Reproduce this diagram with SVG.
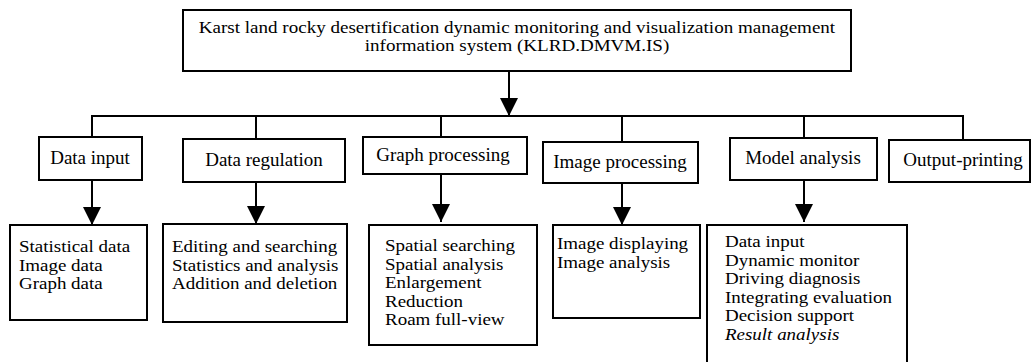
<svg xmlns="http://www.w3.org/2000/svg" width="1032" height="362" viewBox="0 0 1032 362">
<style>
.box{fill:#fff;stroke:#000;stroke-width:2}
.ln{fill:none;stroke:#000;stroke-width:2}
text{font-family:"Liberation Serif","Times New Roman",serif;font-size:19px;fill:#000}
.c{text-anchor:middle}
.t{font-size:16px}
.l{font-size:16.5px}
</style>
<defs>
<marker id="ah" viewBox="0 0 18 18" refX="18" refY="9" markerWidth="18" markerHeight="18" orient="auto" markerUnits="userSpaceOnUse"><path d="M0,0 L18,9 L0,18 z" fill="#000"/></marker>
</defs>
<rect width="1032" height="362" fill="#fff"/>
<g id="connectors">
<path class="ln" d="M509,71 V116" marker-end="url(#ah)"/>
<path class="ln" d="M92,137 V116 H963 V140"/>
<path class="ln" d="M256,116 V139"/>
<path class="ln" d="M441,116 V137"/>
<path class="ln" d="M622,116 V142"/>
<path class="ln" d="M804,116 V138"/>
<path class="ln" d="M92,180 V225" marker-end="url(#ah)"/>
<path class="ln" d="M256,182 V224" marker-end="url(#ah)"/>
<path class="ln" d="M441,174 V222" marker-end="url(#ah)"/>
<path class="ln" d="M622,183 V225" marker-end="url(#ah)"/>
<path class="ln" d="M804,180 V222" marker-end="url(#ah)"/>
</g>
<g id="root">
<rect class="box" x="183" y="10" width="668" height="61"/>
<text class="t c" transform="translate(517 33) scale(1.19 1)">Karst land rocky desertification dynamic monitoring and visualization management</text>
<text class="t c" transform="translate(517 51) scale(1.19 1)">information system (KLRD.DMVM.IS)</text>
</g>
<g id="data-input">
<rect class="box" x="39" y="137" width="103" height="43"/>
<text class="c" x="90" y="164">Data input</text>
</g>
<g id="data-regulation">
<rect class="box" x="183" y="139" width="162" height="43"/>
<text class="c" x="264" y="166">Data regulation</text>
</g>
<g id="graph-processing">
<rect class="box" x="363" y="137" width="164" height="37"/>
<text class="c" x="443" y="161">Graph processing</text>
</g>
<g id="image-processing">
<rect class="box" x="543" y="142" width="155" height="41"/>
<text class="c" x="620" y="168">Image processing</text>
</g>
<g id="model-analysis">
<rect class="box" x="730" y="138" width="147" height="42"/>
<text class="c" x="803" y="164">Model analysis</text>
</g>
<g id="output-printing">
<rect class="box" x="889" y="140" width="141" height="42"/>
<text class="c" x="963" y="166">Output-printing</text>
</g>
<g id="data-input-items">
<rect class="box" x="10" y="225" width="137" height="95"/>
<text class="l" transform="translate(19 252) scale(1.15 1)">Statistical data</text>
<text class="l" transform="translate(19 270.5) scale(1.15 1)">Image data</text>
<text class="l" transform="translate(19 289) scale(1.15 1)">Graph data</text>
</g>
<g id="data-regulation-items">
<rect class="box" x="163" y="224" width="184" height="98"/>
<text class="l" transform="translate(172 252) scale(1.15 1)">Editing and searching</text>
<text class="l" transform="translate(172 270.5) scale(1.15 1)">Statistics and analysis</text>
<text class="l" transform="translate(172 289) scale(1.15 1)">Addition and deletion</text>
</g>
<g id="graph-processing-items">
<rect class="box" x="369" y="225" width="168" height="120"/>
<text class="l" transform="translate(385 251) scale(1.15 1)">Spatial searching</text>
<text class="l" transform="translate(385 269.5) scale(1.15 1)">Spatial analysis</text>
<text class="l" transform="translate(385 288) scale(1.15 1)">Enlargement</text>
<text class="l" transform="translate(385 306.5) scale(1.15 1)">Reduction</text>
<text class="l" transform="translate(385 325) scale(1.15 1)">Roam full-view</text>
</g>
<g id="image-processing-items">
<rect class="box" x="553" y="225" width="147" height="93"/>
<text class="l" transform="translate(557 249) scale(1.15 1)">Image displaying</text>
<text class="l" transform="translate(557 267.5) scale(1.15 1)">Image analysis</text>
</g>
<g id="model-analysis-items">
<rect class="box" x="707" y="225" width="200" height="145"/>
<text class="l" transform="translate(725 247) scale(1.15 1)">Data input</text>
<text class="l" transform="translate(725 265.5) scale(1.15 1)">Dynamic monitor</text>
<text class="l" transform="translate(725 284) scale(1.15 1)">Driving diagnosis</text>
<text class="l" transform="translate(725 302.5) scale(1.15 1)">Integrating evaluation</text>
<text class="l" transform="translate(725 321) scale(1.15 1)">Decision support</text>
<text class="l" transform="translate(725 339.5) scale(1.15 1)" font-style="italic">Result analysis</text>
</g>
</svg>
